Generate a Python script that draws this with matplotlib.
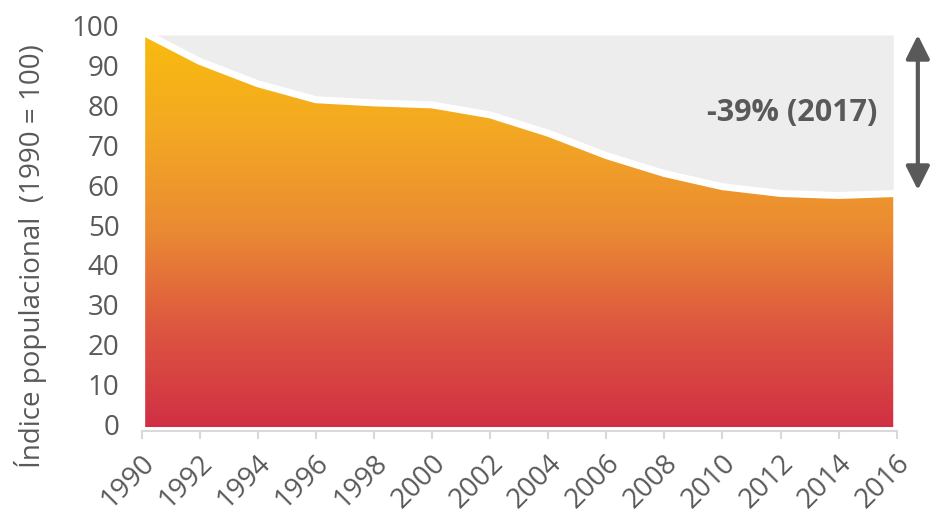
import numpy as np
import matplotlib.pyplot as plt
import matplotlib.transforms as mtransforms
from matplotlib.colors import LinearSegmentedColormap

#%%
"""
### Dados
"""
anos = [1990, 1992, 1994, 1996, 1998, 2000, 2002, 2004, 2006, 2008, 2010, 2012, 2014, 2016]
indice = [100, 92.5, 86.9, 82.9, 82.1, 81.6, 79.1, 74.5, 68.9, 64.4, 61.1, 59.4, 58.9, 59.4]
yticks = list(range(0, 101, 10))
rotulo_y = 'Índice populacional  (1990 = 100)'
rotulo_queda = '-39% (2017)'

#%%
"""
### Estilo
"""
plt.rcParams['font.family'] = ['Open Sans', 'DejaVu Sans']
cinza_txt = '#595959'
cinza_eixo = '#D9D9D9'
cinza_fundo = '#EDEDED'
cmap = LinearSegmentedColormap.from_list(
    'laranja', ['#D02E44', '#DD5540', '#EA8A33', '#F3A823', '#F9BC0E'])

#%%
fig = plt.figure(figsize=(9.31, 5.11), dpi=100)
ax = fig.add_axes([141.7 / 931, 1 - 430.5 / 511, 755 / 931, 399 / 511])

# area cinza acima da curva
ax.fill_between(anos, indice, 100, facecolor=cinza_fundo, edgecolor='white',
                linewidth=5, zorder=1)

# area com degrade
grad = np.linspace(0, 1, 256).reshape(-1, 1)
img = ax.imshow(grad, extent=[anos[0], anos[-1], 0, 100], origin='lower',
                aspect='auto', cmap=cmap, zorder=1)
poly = ax.fill_between(anos, 0, indice, facecolor='none', edgecolor='white',
                       linewidth=5, zorder=2)
img.set_clip_path(poly.get_paths()[0], transform=ax.transData)

ax.set_xlim(anos[0], anos[-1])
ax.set_ylim(0, 100)

#%%
"""
### Eixos
"""
for s in ['top', 'right', 'left']:
    ax.spines[s].set_visible(False)
ax.spines['bottom'].set_color(cinza_eixo)
ax.spines['bottom'].set_linewidth(1.5)
ax.spines['bottom'].set_zorder(3)

ax.set_xticks(anos)
ax.set_xticklabels([str(a) for a in anos])
ax.tick_params(axis='x', direction='out', length=5.5, width=1.5, color=cinza_eixo,
               labelsize=20, labelcolor=cinza_txt, pad=6)
desloca = mtransforms.ScaledTranslation(9 / 100, -13 / 100, fig.dpi_scale_trans)
for lbl in ax.get_xticklabels():
    lbl.set_rotation(45)
    lbl.set_ha('right')
    lbl.set_va('center')
    lbl.set_rotation_mode('anchor')
    lbl.set_transform(lbl.get_transform() + desloca)

ax.set_yticks(yticks)
ax.tick_params(axis='y', length=0, labelsize=20, labelcolor=cinza_txt, pad=16)
sobe = mtransforms.ScaledTranslation(0, 6 / 100, fig.dpi_scale_trans)
for lbl in ax.get_yticklabels():
    lbl.set_transform(lbl.get_transform() + sobe)

ax.set_ylabel(rotulo_y, fontsize=20, color=cinza_txt)
ax.yaxis.set_label_coords(-0.125, 0.437)

#%%
"""
### Anotacao
"""
ax.text(0.975, 0.796, rotulo_queda, transform=ax.transAxes, ha='right', va='center',
        fontsize=22, fontweight='bold', color=cinza_txt)
ax.annotate('', xy=(1.028, 100), xytext=(1.028, indice[-1]),
            xycoords=ax.get_yaxis_transform(), annotation_clip=False,
            arrowprops=dict(arrowstyle='<|-|>,head_length=1.0,head_width=0.5',
                            mutation_scale=14.4, lw=3, color=cinza_txt,
                            shrinkA=2.5, shrinkB=2.5))

plt.savefig('out.png', dpi=100, facecolor='white')
